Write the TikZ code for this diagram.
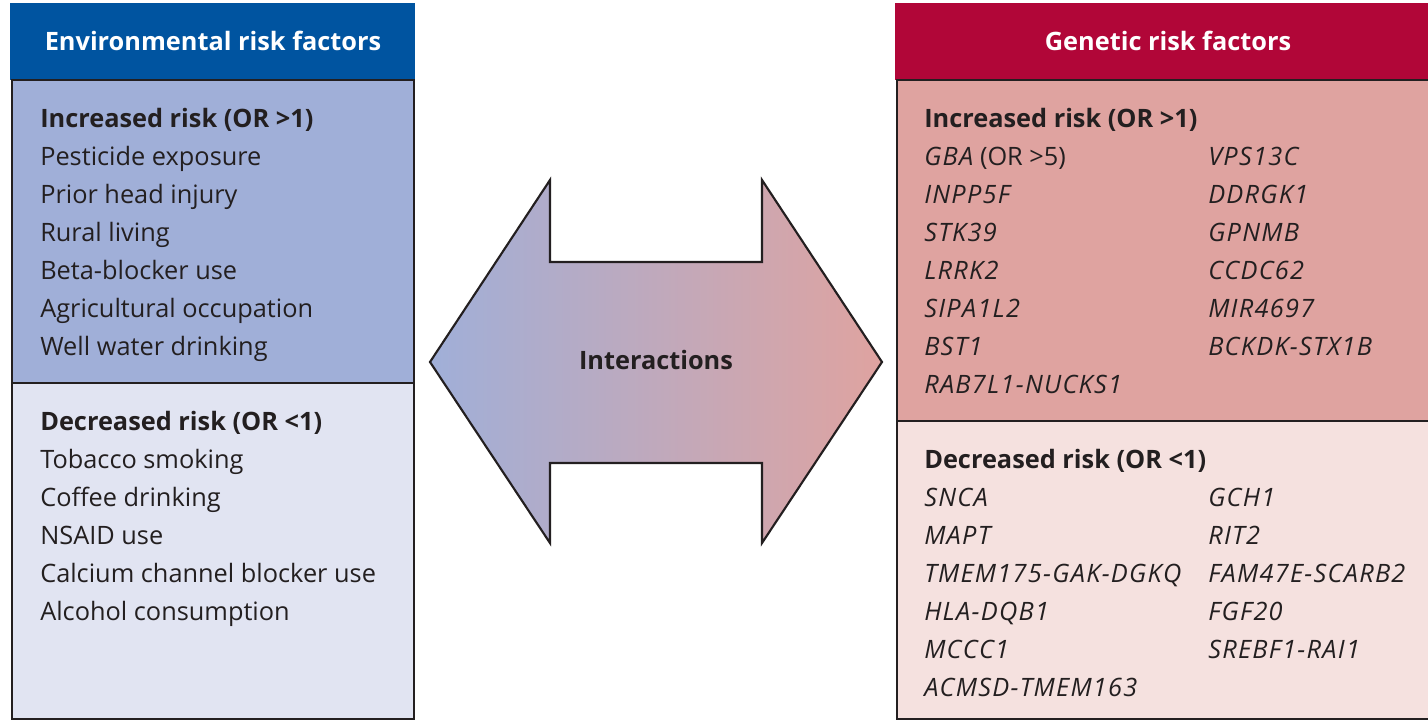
\documentclass[tikz,border=0pt]{standalone}
\usepackage{fontspec}
\setmainfont{Open Sans}
\usetikzlibrary{positioning}
\definecolor{ink}{RGB}{35,31,32}
\definecolor{envhd}{RGB}{0,84,160}
\definecolor{envup}{RGB}{160,175,216}
\definecolor{envlo}{RGB}{225,228,242}
\definecolor{genhd}{RGB}{177,6,56}
\definecolor{genup}{RGB}{223,163,160}
\definecolor{genlo}{RGB}{245,225,223}
\newcommand\bodysize{\fontsize{19}{23}\selectfont}

\begin{document}
\begin{tikzpicture}[x=0.75pt, y=-0.75pt,
  font=\bodysize, text=ink,
  box/.style={draw=ink, line width=1.6pt},
  head/.style={font=\bodysize\bfseries, text=white},
  sub/.style={anchor=base west, inner sep=0pt, font=\bodysize\bfseries},
  item/.style={anchor=base west, inner sep=0pt},
  gene/.style={item, font=\bodysize\itshape\addfontfeature{LetterSpace=5}}]
\useasboundingbox (0,0) rectangle (1428,721);
% environmental panel
\fill[envhd] (10,3) rectangle (415,80);
\draw[box, fill=envup] (12,80) rectangle (414,383);
\draw[box, fill=envlo] (12,383) rectangle (414,719);
\node[head] (envhead) at (213,41) {Environmental risk factors};
\node[sub] (envinc) at (40,127) {Increased risk (OR >1)};
\foreach \t [count=\i from 0] in {Pesticide exposure, Prior head injury, Rural living,
    Beta-blocker use, Agricultural occupation, Well water drinking}
  \node[item] (envinc\i) at (40,165+38*\i) {\t};
\node[sub] (envdec) at (40,430) {Decreased risk (OR <1)};
\foreach \t [count=\i from 0] in {Tobacco smoking, Coffee drinking, NSAID use,
    Calcium channel blocker use, Alcohol consumption}
  \node[item] (envdec\i) at (40,468+38*\i) {\t};
% genetic panel
\fill[genhd] (895,3) rectangle (1432,80);
\draw[box, fill=genup] (897,80) rectangle (1432,421);
\draw[box, fill=genlo] (897,421) rectangle (1432,719);
\node[head] (genhead) at (1168,41) {Genetic risk factors};
\node[sub] (geninc) at (924,127) {Increased risk (OR >1)};
\node[item] (gena0) at (924,165) {{\itshape\addfontfeature{LetterSpace=5}GBA} (OR >5)};
\foreach \t [count=\i from 1] in {INPP5F, STK39, LRRK2, SIPA1L2, BST1, RAB7L1-NUCKS1}
  \node[gene] (gena\i) at (924,165+38*\i) {\t};
\foreach \t [count=\i from 0] in {VPS13C, DDRGK1, GPNMB, CCDC62, MIR4697, BCKDK-STX1B}
  \node[gene] (genb\i) at (1208,165+38*\i) {\t};
\node[sub] (gendec) at (924,468) {Decreased risk (OR <1)};
\foreach \t [count=\i from 0] in {SNCA, MAPT, TMEM175-GAK-DGKQ, HLA-DQB1, MCCC1, ACMSD-TMEM163}
  \node[gene] (genc\i) at (924,506+38*\i) {\t};
\foreach \t [count=\i from 0] in {GCH1, RIT2, FAM47E-SCARB2, FGF20, SREBF1-RAI1}
  \node[gene] (gend\i) at (1208,506+38*\i) {\t};
% interactions arrow
\draw[line width=1.6pt, draw=ink, left color=envup, right color=genup]
  (430,362) -- (550,180) -- (550,262) -- (762,262) -- (762,180) -- (882,362)
  -- (762,543) -- (762,463) -- (550,463) -- (550,543) -- cycle;
\node[font=\bodysize\bfseries] (inter) at (656,360) {Interactions};
\end{tikzpicture}
\end{document}
